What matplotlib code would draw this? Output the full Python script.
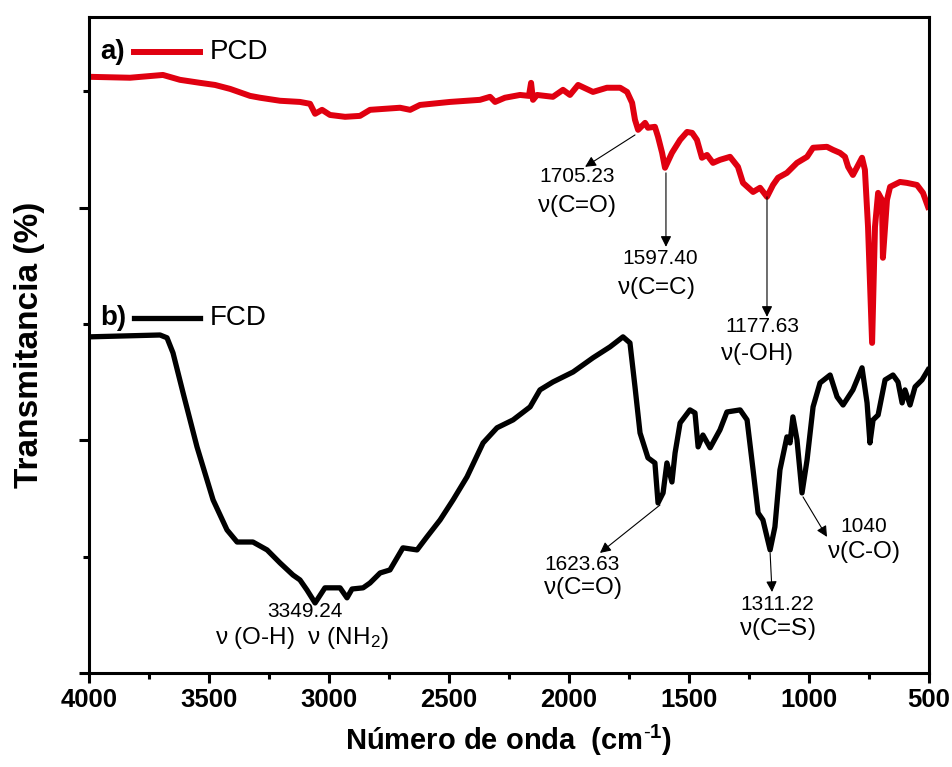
import numpy as np
import matplotlib
matplotlib.use("Agg")
import matplotlib.pyplot as plt
from matplotlib.ticker import MultipleLocator, NullFormatter

plt.rcParams['font.family'] = ['Liberation Sans', 'DejaVu Sans']
plt.rcParams['mathtext.fontset'] = 'custom'
plt.rcParams['mathtext.rm'] = 'Liberation Sans'
plt.rcParams['mathtext.bf'] = 'Liberation Sans:bold'
plt.rcParams['mathtext.default'] = 'rm'

# PCD spectrum (red), wavenumber in cm-1 and transmittance (a.u.)
pcd_wn = [4000, 3829, 3692, 3621, 3537, 3475, 3412, 3329, 3287, 3204, 3121, 3079,
          3058, 3029, 2996, 2933, 2871, 2829, 2704, 2662, 2621, 2496, 2371, 2329,
          2308, 2267, 2204, 2167, 2158, 2150, 2133, 2067, 2025, 1996, 1962, 1900,
          1842, 1787, 1758, 1737, 1725, 1712, 1683, 1671, 1642, 1629, 1612, 1600,
          1571, 1537, 1508, 1487, 1467, 1446, 1425, 1400, 1371, 1329, 1296, 1275,
          1233, 1204, 1175, 1150, 1129, 1092, 1050, 1008, 983, 925, 900, 871, 850,
          837, 817, 779, 767, 754, 737, 725, 712, 696, 692, 675, 662, 621, 592,
          550, 525, 504]
pcd_t = [256.3, 255.9, 257.1, 255.0, 253.7, 252.8, 251.1, 248.1, 247.3, 246.0, 245.5, 244.7,
         240.4, 242.1, 239.9, 239.1, 239.5, 242.1, 243.0, 242.1, 244.2, 245.5, 246.4, 247.7,
         245.5, 247.3, 248.5, 248.1, 253.7, 246.4, 248.5, 247.7, 250.7, 248.5, 252.8, 249.8,
         251.6, 251.6, 249.8, 245.1, 237.8, 233.5, 236.5, 234.4, 234.8, 230.5, 223.6, 217.2,
         223.6, 229.2, 232.6, 232.2, 229.2, 221.5, 222.7, 219.3, 220.6, 221.9, 217.6, 210.7,
         206.8, 208.6, 204.7, 209.8, 212.9, 215.0, 219.3, 221.9, 225.8, 226.2, 224.9, 223.6, 221.9,
         217.6, 214.1, 221.5, 216.3, 191.8, 141.9, 191.8, 206.4, 203.4, 178.5, 203.4, 209.0, 211.1, 210.7,
         209.8, 206.4, 200.4]

# FCD spectrum (black)
fcd_wn = [4000, 3704, 3675, 3650, 3608, 3550, 3483, 3425, 3383, 3317, 3258, 3204,
          3150, 3121, 3092, 3058, 3017, 2954, 2925, 2904, 2858, 2829, 2787, 2746,
          2692, 2633, 2592, 2537, 2483, 2425, 2358, 2300, 2233, 2162, 2121, 2067,
          1983, 1900, 1829, 1775, 1746, 1725, 1704, 1671, 1642, 1629, 1608, 1592,
          1571, 1558, 1537, 1496, 1475, 1462, 1442, 1412, 1371, 1342, 1287, 1258,
          1233, 1212, 1192, 1162, 1142, 1121, 1092, 1079, 1067, 1050, 1029, 1008,
          983, 954, 912, 883, 858, 817, 779, 758, 746, 733, 712, 683, 650, 629,
          612, 600, 579, 558, 529, 504]
fcd_t = [144.5, 145.3, 144.1, 137.6, 120.4, 97.2, 74.4, 61.5, 56.3, 56.3, 52.9, 47.3,
         42.1, 40.0, 35.7, 30.1, 36.6, 36.6, 32.3, 36.1, 36.6, 38.7, 43.0, 44.3,
         53.8, 52.9, 58.5, 65.8, 74.4, 84.3, 98.9, 105.4, 108.8, 114.4, 121.7, 125.1,
         129.4, 135.5, 140.2, 144.5, 141.9, 123.0, 103.2, 92.5, 90.3, 73.1, 77.4, 90.3,
         82.1, 94.6, 107.5, 113.1, 111.8, 97.2, 102.3, 96.8, 104.5, 112.2, 113.1, 108.8,
         87.3, 68.8, 65.8, 52.9, 62.8, 87.3, 101.5, 98.9, 110.1, 100.2, 77.4, 91.6,
         114.4, 124.7, 128.1, 118.7, 115.2, 121.7, 131.2, 116.1, 98.9, 108.8, 110.9, 126.0, 128.1, 125.1,
         116.1, 121.7, 115.2, 123.0, 126.0, 130.3]

# peak labels: (label, band, arrow tail, arrow head, number position, band position)
peaks = [
    ("1705.23", r"$\nu$(C=O)", (1725, 231.3), (1933, 217.6), (1965, 213.3), (1967, 200.8)),
    ("1597.40", r"$\nu$(C=C)", (1596, 215.0), (1596, 183.2), (1621, 178.0), (1637, 165.6)),
    ("1177.63", r"$\nu$(-OH)", (1175, 204.7), (1175, 153.1), (1196, 148.8), (1217, 137.2)),
    ("1623.63", r"$\nu$(C=O)", (1621, 72.2), (1871, 51.6), (1946, 46.8), (1942, 36.6)),
    ("1311.22", r"$\nu$(C=S)", (1162, 51.6), (1154, 34.8), (1133, 29.6), (1133, 19.0)),
    ("1040", r"$\nu$(C-O)", (1025, 75.7), (925, 58.5), (771, 62.8), (771, 52.0)),
]

fig = plt.figure(figsize=(9.53, 7.67), dpi=100)
ax = fig.add_axes([0.0934, 0.1226, 0.8814, 0.8552])

ax.plot(pcd_wn, pcd_t, color='#e00010', lw=4.3, solid_joinstyle='round')
ax.plot(fcd_wn, fcd_t, color='black', lw=3.8, solid_joinstyle='round')

for num, band, tail, head, pnum, pband in peaks:
    ax.annotate("", xy=head, xytext=tail,
                arrowprops=dict(arrowstyle="-|>", color='black', lw=0.8,
                                mutation_scale=16, shrinkA=0, shrinkB=0))
    ax.text(pnum[0], pnum[1], num, fontsize=15, ha='center', va='center')
    ax.text(pband[0], pband[1], band, fontsize=17.5, ha='center', va='center')

ax.text(3100, 26.4, "3349.24", fontsize=15, ha='center', va='center')
ax.text(3112, 15.0, r"$\nu$ (O-H)  $\nu$ (NH$_2$)", fontsize=17.5, ha='center', va='center')

# legend-like labels
ax.text(0.013, 0.947, "a)", transform=ax.transAxes, fontsize=20, fontweight='bold',
        va='center')
ax.plot([0.054, 0.132], [0.947, 0.947], transform=ax.transAxes, color='#e00010', lw=4.3)
ax.text(0.144, 0.947, "PCD", transform=ax.transAxes, fontsize=20, va='center')
ax.text(0.013, 0.541, "b)", transform=ax.transAxes, fontsize=20, fontweight='bold',
        va='center')
ax.plot([0.054, 0.132], [0.541, 0.541], transform=ax.transAxes, color='black', lw=3.8)
ax.text(0.144, 0.541, "FCD", transform=ax.transAxes, fontsize=20, va='center')

ax.set_xlim(4000, 500)
ax.set_ylim(0, 282)
ax.xaxis.set_major_locator(MultipleLocator(500))
ax.xaxis.set_minor_locator(MultipleLocator(250))
ax.yaxis.set_major_locator(MultipleLocator(100))
ax.yaxis.set_minor_locator(MultipleLocator(50))
ax.yaxis.set_major_formatter(NullFormatter())
ax.tick_params(axis='both', which='major', direction='out', length=7, width=2.2)
ax.tick_params(axis='both', which='minor', direction='out', length=4, width=2.2)
ax.tick_params(top=False, right=False, which='both')
for lab in ax.get_xticklabels():
    lab.set_fontweight('bold')
    lab.set_fontsize(18.5)
for sp in ax.spines.values():
    sp.set_linewidth(2.2)

ax.set_xlabel(r"Número de onda  (cm$\mathbf{^{\text{-}1}}$)", fontsize=21, fontweight='bold',
              labelpad=8)
ax.set_ylabel("Transmitancia (%)", fontsize=24, fontweight='bold', labelpad=21)

fig.savefig("out.png", dpi=100)
